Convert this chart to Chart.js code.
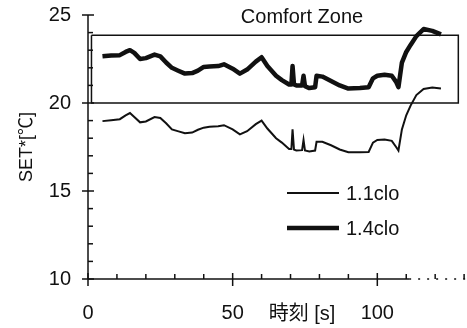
<!DOCTYPE html>
<html>
<head>
<meta charset="utf-8">
<script src="https://cdn.jsdelivr.net/npm/chart.js@4/dist/chart.umd.min.js"></script>
<style>
  html, body { margin: 0; padding: 0; background: #fff; }
  canvas { display: block; }
</style>
</head>
<body>
<canvas id="c" width="467" height="328"></canvas>
<script>
// Time axis [s]
const timeSec = [5, 8, 11, 13, 14.5, 16, 18, 20, 23, 25, 27, 29, 31, 33.5, 36, 38, 40, 42, 45, 47,
  50, 52.5, 55, 58, 60, 62, 65, 67, 69.5, 70.3, 70.7, 71.2, 72, 74, 74.5, 75, 76.5, 78.5, 79, 81,
  84, 87, 90, 94, 97, 98.5, 100, 102.5, 105, 106.5, 107.3, 108.5, 110, 111.5, 113.5, 116, 119, 122];

// SET* for 1.1 clo
const set11clo = [18.97, 19.02, 19.08, 19.3, 19.43, 19.2, 18.9, 18.95, 19.2, 19.15, 18.85, 18.5, 18.4, 18.28, 18.32, 18.48, 18.6, 18.65, 18.68, 18.74,
  18.5, 18.22, 18.4, 18.8, 19.0, 18.55, 18.0, 17.75, 17.38, 17.38, 18.5, 17.35, 17.3, 17.32, 17.9, 17.3, 17.25, 17.3, 17.8, 17.8,
  17.6, 17.36, 17.2, 17.2, 17.22, 17.75, 17.9, 17.93, 17.85, 17.5, 17.3, 18.5, 19.3, 19.85, 20.45, 20.8, 20.88, 20.82];

// SET* for 1.4 clo
const set14clo = [22.65, 22.7, 22.72, 22.9, 23.0, 22.85, 22.5, 22.55, 22.75, 22.65, 22.3, 22.0, 21.85, 21.67, 21.7, 21.84, 22.05, 22.07, 22.1, 22.2,
  21.95, 21.67, 21.9, 22.35, 22.6, 22.1, 21.55, 21.3, 21.05, 21.05, 22.1, 21.05, 21.0, 21.0, 21.55, 20.95, 20.85, 20.9, 21.55, 21.5,
  21.25, 21.0, 20.82, 20.85, 20.9, 21.4, 21.55, 21.6, 21.55, 21.2, 20.9, 22.3, 22.9, 23.3, 23.8, 24.2, 24.1, 23.9];

// Comfort zone outline
const zoneX = [1.2, 128, 128, 1.2, 1.2];
const zoneY = [23.85, 23.85, 20, 20, 23.85];

const seriesNames = ['1.1clo', '1.4clo'];
const zoneLabel = 'Comfort Zone';
const xTitle = '時刻 [s]';
const yTitle = 'SET*[℃]';
const xRange = [0, 131];
const yRange = [10, 25];

const ink = '#111';
const fontFamily = '"Liberation Sans", Arial, "Noto Sans CJK JP", sans-serif';

const toPoints = (xs, ys) => xs.map((x, i) => ({ x, y: ys[i] }));

// Axis lines, tick marks, legend and annotations
const decorations = {
  id: 'decorations',
  afterDraw(chart) {
    const { ctx } = chart;
    const xs = chart.scales.x, ys = chart.scales.y;
    const x0 = xs.getPixelForValue(0);
    const y0 = ys.getPixelForValue(yRange[0]);
    ctx.save();
    ctx.strokeStyle = ink;
    ctx.fillStyle = ink;
    ctx.lineWidth = 1.5;

    // y axis
    ctx.beginPath();
    ctx.moveTo(x0, ys.getPixelForValue(yRange[1]));
    ctx.lineTo(x0, y0);
    ctx.stroke();
    for (let v = yRange[0]; v <= yRange[1]; v++) {
      const py = ys.getPixelForValue(v);
      ctx.beginPath();
      if (v % 5 === 0) { ctx.moveTo(x0 - 6, py); ctx.lineTo(x0 + 6, py); }
      else { ctx.moveTo(x0, py); ctx.lineTo(x0 + 5, py); }
      ctx.stroke();
    }

    // x axis: solid, then dotted towards the end
    const xBreak = xs.getPixelForValue(111);
    ctx.beginPath();
    ctx.moveTo(x0, y0);
    ctx.lineTo(xBreak, y0);
    ctx.stroke();
    ctx.setLineDash([2, 7]);
    ctx.beginPath();
    ctx.moveTo(xBreak, y0);
    ctx.lineTo(xs.getPixelForValue(xRange[1]), y0);
    ctx.stroke();
    ctx.setLineDash([]);
    for (let v = 0; v <= 130; v += 10) {
      const px = xs.getPixelForValue(v);
      ctx.beginPath();
      if (v % 50 === 0) { ctx.moveTo(px, y0 - 6); ctx.lineTo(px, y0 + 7); }
      else { ctx.moveTo(px, y0); ctx.lineTo(px, y0 - 5); }
      ctx.stroke();
    }

    // zone label
    ctx.font = '20px ' + fontFamily;
    ctx.textAlign = 'center';
    ctx.textBaseline = 'middle';
    ctx.fillText(zoneLabel, 302, 17);

    // x axis title, on the tick label row
    ctx.fillText(xTitle, 302, 314);

    // legend
    const rows = [{ y: 193, w: 2 }, { y: 228, w: 4.5 }];
    ctx.textAlign = 'left';
    rows.forEach((r, i) => {
      ctx.lineWidth = r.w;
      ctx.beginPath();
      ctx.moveTo(287, r.y);
      ctx.lineTo(339, r.y);
      ctx.stroke();
      ctx.fillText(seriesNames[i], 346, r.y + 1);
    });
    ctx.restore();
  }
};

new Chart(document.getElementById('c'), {
  type: 'line',
  data: {
    datasets: [
      { label: seriesNames[0], data: toPoints(timeSec, set11clo), borderColor: ink, borderWidth: 2, pointRadius: 0, tension: 0, fill: false },
      { label: seriesNames[1], data: toPoints(timeSec, set14clo), borderColor: ink, borderWidth: 4.5, pointRadius: 0, tension: 0, fill: false, borderJoinStyle: 'round' },
      { label: zoneLabel, data: toPoints(zoneX, zoneY), borderColor: ink, borderWidth: 1.5, pointRadius: 0, tension: 0, fill: false }
    ]
  },
  options: {
    responsive: false,
    animation: false,
    devicePixelRatio: 1,
    layout: { padding: { left: 0, right: 0, top: 15, bottom: 0 } },
    plugins: { legend: { display: false }, tooltip: { enabled: false } },
    scales: {
      x: {
        type: 'linear', min: xRange[0], max: xRange[1],
        grid: { display: false, drawTicks: false },
        border: { display: false },
        ticks: { stepSize: 50, includeBounds: false, padding: 22, color: ink, font: { size: 20, family: fontFamily } },
        afterFit(s) { s.height = 49; s.paddingLeft = 0; s.paddingRight = 0; }
      },
      y: {
        type: 'linear', min: yRange[0], max: yRange[1],
        grid: { display: false, drawTicks: false },
        border: { display: false },
        ticks: { stepSize: 5, includeBounds: false, padding: 17, color: ink, font: { size: 20, family: fontFamily } },
        title: { display: true, text: yTitle, color: ink, padding: { top: 16, bottom: 0 }, font: { size: 18, family: fontFamily } },
        afterFit(s) { s.width = 88; s.paddingTop = 0; s.paddingBottom = 0; }
      }
    }
  },
  plugins: [decorations]
});
</script>
</body>
</html>
